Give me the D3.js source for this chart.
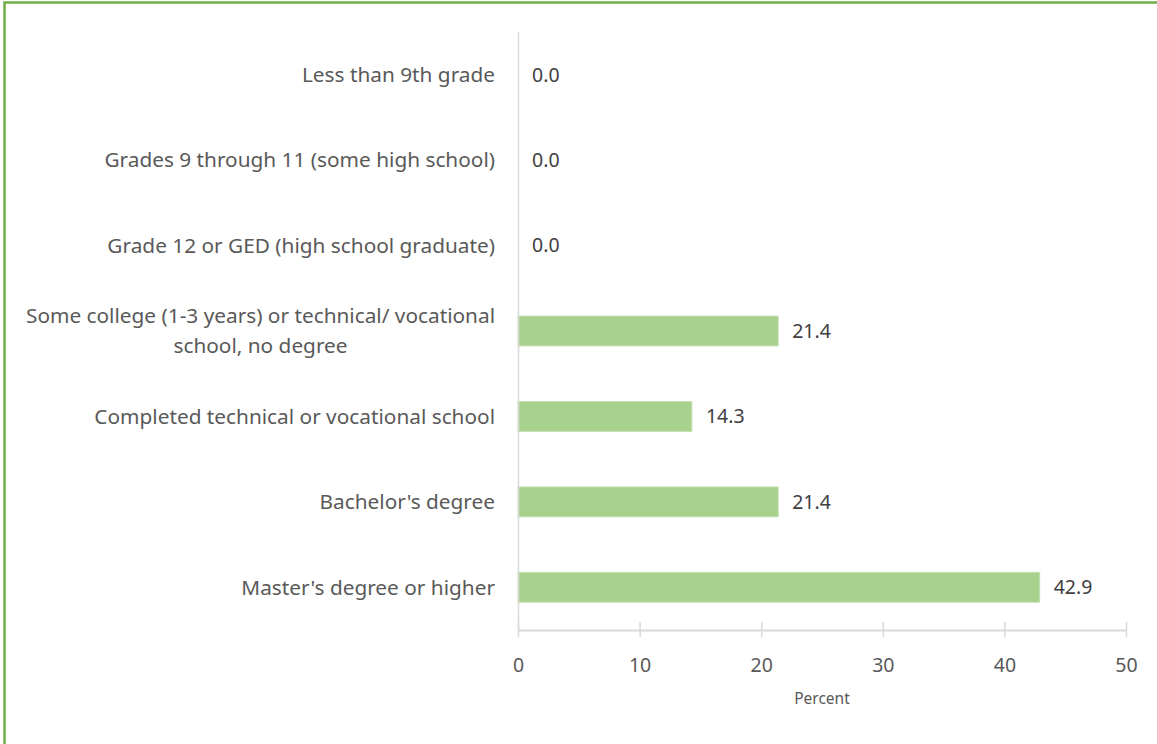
<!DOCTYPE html>
<html>
<head>
<meta charset="utf-8">
<script src="https://cdn.jsdelivr.net/npm/d3@7"></script>
<style>
  html, body { margin: 0; padding: 0; background: #fff; }
  svg { display: block; }
</style>
</head>
<body>
<div id="chart"></div>
<script>
  const categories = [
    'Less than 9th grade',
    'Grades 9 through 11 (some high school)',
    'Grade 12 or GED (high school graduate)',
    'Some college (1-3 years) or technical/ vocational\nschool, no degree',
    'Completed technical or vocational school',
    "Bachelor's degree",
    "Master's degree or higher",
  ];
  const values = [0.0, 0.0, 0.0, 21.4, 14.3, 21.4, 42.9];
  const xTicks = [0, 10, 20, 30, 40, 50];
  const xTitle = 'Percent';

  const width = 1157;
  const height = 744;
  const margin = { top: 32, right: 31, bottom: 114, left: 518 };
  const font = '"Noto Sans", "Open Sans", sans-serif';
  const textColor = '#595959';
  const axisColor = '#d9d9d9';
  const labelSize = 19.5;
  const catSize = 20.8;

  const svg = d3.select('#chart')
    .append('svg')
    .attr('width', width)
    .attr('height', height);

  // green frame, only top and left edges show in the picture
  svg.append('rect')
    .attr('x', 4.5)
    .attr('y', 2.5)
    .attr('width', width + 10)
    .attr('height', height + 10)
    .attr('fill', '#fff')
    .attr('stroke', '#70ad47')
    .attr('stroke-width', 2.5);

  const x = d3.scaleLinear()
    .domain([0, 50])
    .range([margin.left, width - margin.right]);

  const y = d3.scaleBand()
    .domain(categories)
    .range([margin.top, height - margin.bottom])
    .paddingInner(0.65)
    .paddingOuter(0.325);

  // bars
  svg.append('g')
    .selectAll('rect')
    .data(values)
    .join('rect')
    .attr('x', x(0))
    .attr('y', (d, i) => y(categories[i]))
    .attr('width', d => x(d) - x(0))
    .attr('height', y.bandwidth())
    .attr('fill', '#a9d18e')
    .attr('stroke', '#c5e0b4')
    .attr('stroke-width', d => d > 0 ? 1 : 0);

  // value labels
  svg.append('g')
    .selectAll('text')
    .data(values)
    .join('text')
    .attr('x', d => x(d) + 14)
    .attr('y', (d, i) => y(categories[i]) + y.bandwidth() / 2)
    .attr('dy', '0.35em')
    .attr('fill', '#404040')
    .attr('font-family', font)
    .attr('font-size', labelSize)
    .text(d => d.toFixed(1));

  // vertical category axis
  svg.append('line')
    .attr('x1', x(0) + 0.5)
    .attr('x2', x(0) + 0.5)
    .attr('y1', margin.top)
    .attr('y2', height - margin.bottom)
    .attr('stroke', axisColor)
    .attr('stroke-width', 1.5);

  const lineH = 30;
  const labelRight = margin.left - 23;

  svg.append('g')
    .selectAll('text')
    .data(categories)
    .join('text')
    .attr('text-anchor', 'end')
    .attr('fill', textColor)
    .attr('font-family', font)
    .attr('font-size', catSize)
    .each(function (d) {
      const lines = d.split('\n');
      const t = d3.select(this);
      lines.forEach((line, i) => {
        t.append('tspan')
          .attr('x', labelRight)
          .attr('y', y(d) + y.bandwidth() / 2 + (i - (lines.length - 1) / 2) * lineH)
          .attr('dy', '0.35em')
          .text(line);
      });
      if (lines.length > 1) {
        // wrapped labels are centred on their widest line
        const w = this.getBBox().width;
        t.attr('text-anchor', 'middle');
        t.selectAll('tspan').attr('x', labelRight - w / 2);
      }
    });

  // horizontal value axis
  const axisY = height - margin.bottom;
  const xAxis = svg.append('g')
    .attr('transform', `translate(0,${axisY})`)
    .call(d3.axisBottom(x).tickValues(xTicks).tickSize(0).tickPadding(0));

  xAxis.select('.domain')
    .attr('stroke', axisColor)
    .attr('stroke-width', 2);

  xAxis.selectAll('.tick line').remove();
  xAxis.selectAll('.tick')
    .append('line')
    .attr('y1', -8)
    .attr('y2', 7)
    .attr('stroke', axisColor)
    .attr('stroke-width', 1.5);

  xAxis.selectAll('.tick text')
    .attr('y', 42)
    .attr('dy', '0')
    .attr('fill', textColor)
    .attr('font-family', font)
    .attr('font-size', labelSize);

  svg.append('text')
    .attr('x', (x(0) + x(50)) / 2)
    .attr('y', axisY + 74)
    .attr('text-anchor', 'middle')
    .attr('fill', textColor)
    .attr('font-family', font)
    .attr('font-size', 15.5)
    .text(xTitle);
</script>
</body>
</html>
